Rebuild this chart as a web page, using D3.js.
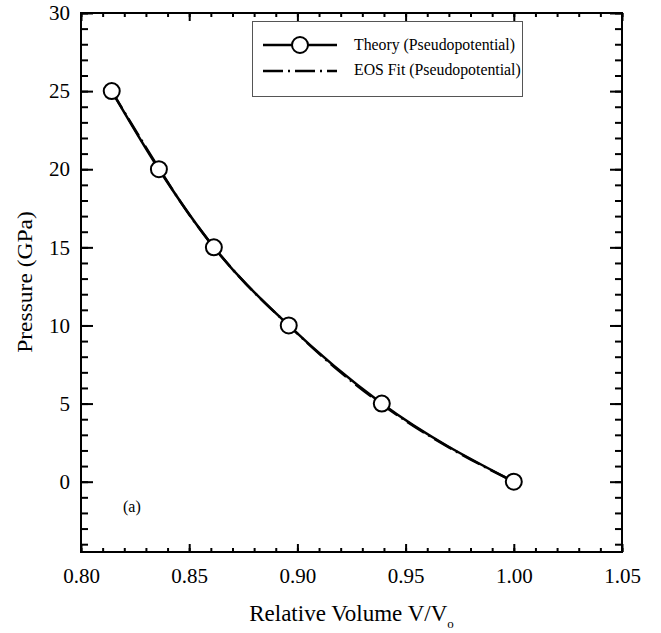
<!DOCTYPE html>
<html>
<head>
<meta charset="utf-8">
<script src="https://cdn.jsdelivr.net/npm/d3@7"></script>
<style>
  body { margin: 0; background: #fff; }
  svg text { font-family: "Liberation Serif", "Times New Roman", Times, "DejaVu Serif", serif; fill: #000; }
</style>
</head>
<body>
<div id="chart"></div>
<script>
// Theory (pseudopotential) points
const volume = [0.8142, 0.836, 0.8614, 0.896, 0.939, 1.0];
const pressure = [25, 20, 15, 10, 5, 0];

// EOS fit curve
const fitVolume = [0.8142, 0.83, 0.85, 0.87, 0.896, 0.92, 0.95, 0.97, 1.0];
const fitPressure = [25, 21.4, 17.1, 13.6, 10, 7.0, 3.9, 2.2, 0];

const xTicks = [0.80, 0.85, 0.90, 0.95, 1.00, 1.05];
const yTicks = [0, 5, 10, 15, 20, 25, 30];
const legendLabels = ['Theory (Pseudopotential)', 'EOS Fit (Pseudopotential)'];

const W = 661, H = 633;
const margin = { top: 13, right: 39, bottom: 81, left: 81 };
const width = W - margin.left - margin.right;
const height = H - margin.top - margin.bottom;
const serif = '"Liberation Serif", "Times New Roman", Times, "DejaVu Serif", serif';

const svg = d3.select('#chart')
    .append('svg')
    .attr('width', W)
    .attr('height', H);

const g = svg.append('g')
    .attr('transform', `translate(${margin.left},${margin.top})`);

const xScale = d3.scaleLinear().domain([0.80, 1.05]).range([0, width]);
const yScale = d3.scaleLinear().domain([-4.5, 30]).range([height, 0]);

const xMinor = d3.range(80, 106).map(v => v / 100);
const yMinor = d3.range(-4, 31);

function styleAxis(sel) {
    sel.attr('font-family', serif).attr('font-size', 21);
    sel.select('.domain').remove();
    sel.selectAll('line').attr('stroke', '#000').attr('stroke-width', 2);
}

// bottom
g.append('g').attr('transform', `translate(0,${height})`)
    .call(d3.axisBottom(xScale).tickValues(xMinor).tickSize(-4).tickFormat(''))
    .call(styleAxis);
g.append('g').attr('transform', `translate(0,${height})`)
    .call(d3.axisBottom(xScale).tickValues(xTicks).tickSize(-8).tickPadding(16).tickFormat(d3.format('.2f')))
    .call(styleAxis);
// top
g.append('g')
    .call(d3.axisTop(xScale).tickValues(xMinor).tickSize(-4).tickFormat(''))
    .call(styleAxis);
g.append('g')
    .call(d3.axisTop(xScale).tickValues(xTicks).tickSize(-8).tickFormat(''))
    .call(styleAxis);
// left
g.append('g')
    .call(d3.axisLeft(yScale).tickValues(yMinor).tickSize(-7).tickFormat(''))
    .call(styleAxis);
g.append('g')
    .call(d3.axisLeft(yScale).tickValues(yTicks).tickSize(-12).tickPadding(11).tickFormat(d3.format('d')))
    .call(styleAxis);
// right
g.append('g').attr('transform', `translate(${width},0)`)
    .call(d3.axisRight(yScale).tickValues(yMinor).tickSize(-7).tickFormat(''))
    .call(styleAxis);
g.append('g').attr('transform', `translate(${width},0)`)
    .call(d3.axisRight(yScale).tickValues(yTicks).tickSize(-12).tickFormat(''))
    .call(styleAxis);

// frame
g.append('rect')
    .attr('width', width)
    .attr('height', height)
    .attr('fill', 'none')
    .attr('stroke', '#000')
    .attr('stroke-width', 2);

// EOS fit curve
const fitData = fitVolume.map((v, i) => ({ v: v, p: fitPressure[i] }));
const line = d3.line()
    .x(d => xScale(d.v))
    .y(d => yScale(d.p))
    .curve(d3.curveMonotoneX);

g.append('path')
    .datum(fitData)
    .attr('fill', 'none')
    .attr('stroke', '#000')
    .attr('stroke-width', 2.5)
    .attr('stroke-dasharray', '20,5,2,5')
    .attr('d', line);

// Theory curve
const data = volume.map((v, i) => ({ v: v, p: pressure[i] }));
g.append('path')
    .datum(data)
    .attr('fill', 'none')
    .attr('stroke', '#000')
    .attr('stroke-width', 2.5)
    .attr('d', line);

g.selectAll('.pt')
    .data(data)
    .enter()
    .append('circle')
    .attr('class', 'pt')
    .attr('cx', d => xScale(d.v))
    .attr('cy', d => yScale(d.p))
    .attr('r', 8)
    .attr('fill', '#fff')
    .attr('stroke', '#000')
    .attr('stroke-width', 2);

// panel label
svg.append('text')
    .attr('x', 123)
    .attr('y', 512)
    .attr('font-family', serif)
    .attr('font-size', 16)
    .text('(a)');

// legend
const legend = svg.append('g');
legend.append('rect')
    .attr('x', 252.5)
    .attr('y', 21.5)
    .attr('width', 270)
    .attr('height', 75)
    .attr('fill', '#fff')
    .attr('stroke', '#555')
    .attr('stroke-width', 1);

legend.append('line')
    .attr('x1', 263).attr('x2', 337)
    .attr('y1', 45).attr('y2', 45)
    .attr('stroke', '#000').attr('stroke-width', 2.5);
legend.append('circle')
    .attr('cx', 300).attr('cy', 45).attr('r', 8)
    .attr('fill', '#fff').attr('stroke', '#000').attr('stroke-width', 2);
legend.append('line')
    .attr('x1', 263).attr('x2', 337)
    .attr('y1', 71).attr('y2', 71)
    .attr('stroke', '#000').attr('stroke-width', 2.5)
    .attr('stroke-dasharray', '20,5,2,5');

legend.selectAll('.lt')
    .data(legendLabels)
    .enter()
    .append('text')
    .attr('class', 'lt')
    .attr('x', 354)
    .attr('y', (d, i) => 50 + i * 25)
    .attr('font-family', serif)
    .attr('font-size', 15.8)
    .text(d => d);

// axis titles
const xt = svg.append('text')
    .attr('x', margin.left + width / 2)
    .attr('y', 621)
    .attr('text-anchor', 'middle')
    .attr('font-family', serif)
    .attr('font-size', 23);
xt.append('tspan').text('Relative Volume V/V');
xt.append('tspan').attr('dy', 7).attr('font-size', 13).text('o');

svg.append('text')
    .attr('transform', `translate(32,282) rotate(-90) scale(1.12,1)`)
    .attr('text-anchor', 'middle')
    .attr('font-family', serif)
    .attr('font-size', 21)
    .text('Pressure (GPa)');
</script>
</body>
</html>
